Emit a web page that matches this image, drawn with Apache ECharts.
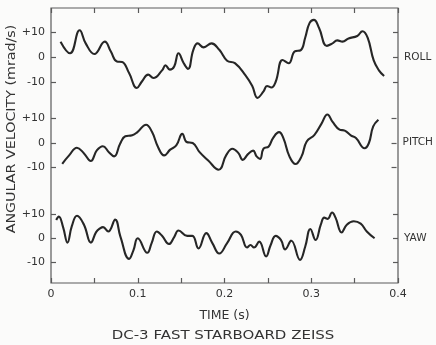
<!DOCTYPE html>
<html>
<head>
<meta charset="utf-8">
<script src="https://cdn.jsdelivr.net/npm/echarts@6/dist/echarts.min.js"></script>
<style>
html,body{margin:0;padding:0;background:#fbfbfa;}
#chart{width:436px;height:345px;}
</style>
</head>
<body>
<div id="chart"></div>
<script>
// ---- data ----
const xTickLabels = ['0', '0.1', '0.2', '0.3', '0.4'];
const yTickLabels = ['-10', '0', '+10'];
const bandNames = ['ROLL', 'PITCH', 'YAW'];

const rollTime = [0.011,0.022,0.033,0.040,0.050,0.062,0.069,0.076,0.082,0.090,0.099,0.105,0.112,0.118,0.128,0.132,0.137,0.142,0.147,0.153,0.158,0.164,0.169,0.176,0.185,0.194,0.203,0.212,0.224,0.232,0.238,0.245,0.249,0.254,0.259,0.267,0.274,0.281,0.288,0.293,0.298,0.303,0.309,0.318,0.324,0.330,0.336,0.343,0.353,0.359,0.365,0.372,0.378,0.384];
const rollValue = [6.3,1.6,10.9,5.6,1.3,6.3,2.3,-1.7,-1.9,-6.4,-12.4,-9.7,-7,-8.4,-5.3,-3.3,-5,-3.7,1.6,-2.4,-4.7,2.9,5.6,4,5.6,3,-1.4,-2.4,-7.2,-11.6,-16.4,-13.8,-11.6,-12.2,-9.9,-1.1,-2.4,2.4,2.9,7.9,13.8,15.1,11.8,4.6,5.5,6.8,6.3,7.6,8.6,10.5,7.9,-1.3,-5.3,-7.6];

const pitchTime = [0.013,0.021,0.030,0.038,0.046,0.053,0.060,0.067,0.073,0.080,0.086,0.094,0.100,0.110,0.117,0.124,0.131,0.138,0.145,0.152,0.157,0.164,0.172,0.182,0.194,0.203,0.210,0.217,0.222,0.228,0.234,0.238,0.242,0.246,0.252,0.257,0.264,0.269,0.276,0.283,0.290,0.296,0.305,0.313,0.320,0.326,0.334,0.340,0.347,0.353,0.363,0.368,0.373,0.379];
const pitchValue = [-8.5,-5.1,-2,-4.2,-7.4,-3.1,-1.4,-3.8,-5.5,-0.4,2.6,3,4.3,7.3,4.3,-1.8,-5.1,-2.8,-1.1,3.6,0.3,-0.1,-3.8,-7.2,-10.9,-4.9,-2.4,-4.2,-6.9,-4.6,-3.2,-5.5,-6.5,-2.4,-1.5,1.9,4.3,1.9,-5.5,-8.6,-5.5,0.5,3.2,7.6,11.4,8.4,5.3,4.9,3,1.9,-2.2,-0.1,6.6,9.3];

const yawTime = [0.006,0.009,0.014,0.019,0.024,0.030,0.038,0.046,0.052,0.057,0.060,0.066,0.074,0.080,0.090,0.095,0.100,0.111,0.116,0.122,0.128,0.136,0.142,0.147,0.157,0.163,0.170,0.179,0.186,0.194,0.203,0.213,0.219,0.226,0.230,0.234,0.240,0.248,0.253,0.259,0.265,0.270,0.277,0.287,0.293,0.299,0.305,0.311,0.315,0.319,0.324,0.328,0.335,0.341,0.349,0.357,0.364,0.373];
const yawValue = [7.5,8.9,4.5,-1.8,5,9.3,5.6,-1.8,2.5,4.2,4.6,2.8,7.7,0.7,-8.5,-5,0,-6,-2,2.8,1,-2.4,0.5,3.2,1,1,-4.2,2.1,-2,-6.3,-2,2.8,1.4,-3.8,-2.8,-3.8,-1.4,-7.5,-3,1,-0.7,-4.6,-1,-8.9,-3.5,3.8,-0.7,5.6,8.5,8,10.6,8.5,2.4,5.6,7,6,2.8,0];

const xAxisTitle = 'TIME (s)';
const yAxisTitle = 'ANGULAR VELOCITY (mrad/s)';
const chartCaption = 'DC-3 FAST STARBOARD ZEISS';

// ---- build chart ----
const FONT = 'DejaVu Sans';
const TXT = '#333333';
const FRAME = '#5a5a5a';
const LINE = '#262626';

const pair = (t, v) => t.map((x, i) => [x, v[i]]);
const seriesData = [pair(rollTime, rollValue), pair(pitchTime, pitchValue), pair(yawTime, yawValue)];

const L = 51, R = 38;
const bands = [ {top: 32.5, height: 49.5}, {top: 118, height: 49.5}, {top: 214, height: 48.5} ];

const grid = [{left: L, right: R, top: 8, bottom: 62, show: true, borderColor: FRAME, borderWidth: 1.2, backgroundColor: 'transparent'}];
bands.forEach(b => grid.push({left: L, right: R, top: b.top, height: b.height}));

function xLabel(v) {
  const k = Math.round(v * 100);
  if (k % 10 !== 0) return '';
  return xTickLabels[k / 10];
}

const xAxis = [
  {gridIndex: 0, type: 'value', min: 0, max: 0.4, interval: 0.05, position: 'bottom',
   axisLine: {show: false}, splitLine: {show: false},
   axisTick: {inside: true, length: 5, lineStyle: {color: FRAME, width: 1.2}},
   axisLabel: {formatter: xLabel, color: TXT, fontFamily: FONT, fontSize: 11, margin: 6},
   name: xAxisTitle, nameLocation: 'middle', nameGap: 26,
   nameTextStyle: {color: TXT, fontFamily: FONT, fontSize: 12.5}},
  {gridIndex: 0, type: 'value', min: 0, max: 0.4, interval: 0.05, position: 'top',
   axisLine: {show: false}, splitLine: {show: false},
   axisTick: {inside: true, length: 5, lineStyle: {color: FRAME, width: 1.2}},
   axisLabel: {show: false}}
];
const yAxis = [{gridIndex: 0, type: 'value', show: false}];
const series = [];

bands.forEach((b, i) => {
  const g = i + 1;
  xAxis.push({gridIndex: g, type: 'value', min: 0, max: 0.4, show: false});
  yAxis.push({gridIndex: g, type: 'value', min: -10, max: 10, interval: 10, position: 'left',
    axisLine: {show: false}, splitLine: {show: false},
    axisTick: {inside: true, length: 5, lineStyle: {color: FRAME, width: 1.2}},
    axisLabel: {formatter: v => yTickLabels[(v + 10) / 10], color: TXT, fontFamily: FONT, fontSize: 11, margin: 6}});
  yAxis.push({gridIndex: g, type: 'value', min: -10, max: 10, interval: 10, position: 'right',
    axisLine: {show: false}, splitLine: {show: false},
    axisTick: {inside: true, length: 5, lineStyle: {color: FRAME, width: 1.2}},
    axisLabel: {formatter: v => v === 0 ? bandNames[i] : '', color: TXT, fontFamily: FONT, fontSize: 10.5, margin: 6}});
  series.push({type: 'line', name: bandNames[i], xAxisIndex: i + 2, yAxisIndex: 1 + i * 2,
    data: seriesData[i], showSymbol: false, smooth: 0.45, clip: false,
    lineStyle: {color: LINE, width: 2.1}});
});

const chart = echarts.init(document.getElementById('chart'), null, {renderer: 'canvas'});
chart.setOption({
  backgroundColor: '#fbfbfa',
  animation: false,
  grid, xAxis, yAxis, series,
  graphic: [
    {type: 'text', x: 12, y: 129, rotation: Math.PI / 2, scaleX: 1.14,
     style: {text: yAxisTitle, fill: TXT, font: '12.5px "DejaVu Sans"', textAlign: 'center', textVerticalAlign: 'middle'}},
    {type: 'text', x: 223, y: 336, scaleX: 1.25,
     style: {text: chartCaption, fill: TXT, font: '12px "DejaVu Sans"', textAlign: 'center', textVerticalAlign: 'middle'}}
  ]
});
</script>
</body>
</html>
